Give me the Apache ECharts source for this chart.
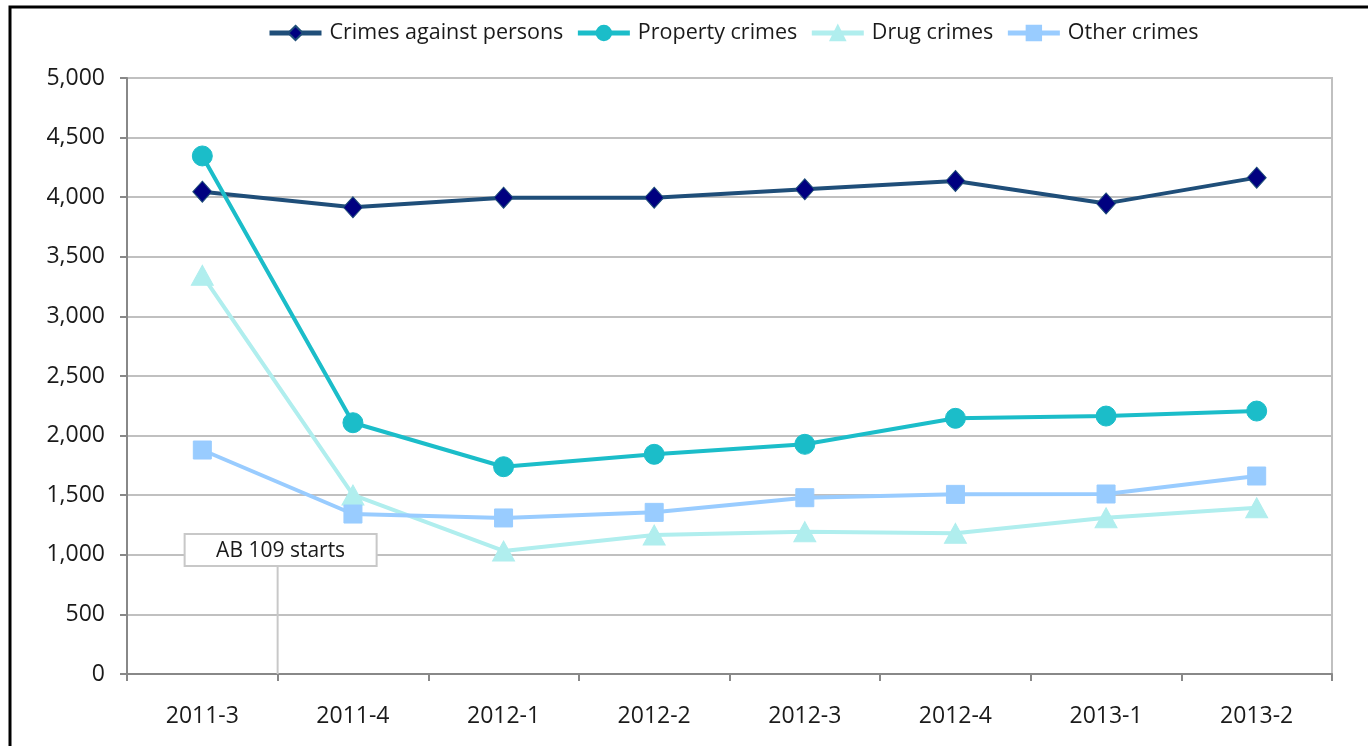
<!DOCTYPE html>
<html>
<head>
<meta charset="utf-8">
<script src="https://cdn.jsdelivr.net/npm/echarts@6/dist/echarts.min.js"></script>
<style>
html,body{margin:0;padding:0;background:#fff;}
#c{width:1368px;height:746px;}
</style>
</head>
<body>
<div id="c"></div>
<script>
const categories = ['2011-3','2011-4','2012-1','2012-2','2012-3','2012-4','2013-1','2013-2'];
const personsCrimes = [4046, 3915, 3996, 3996, 4066, 4136, 3948, 4164];
const propertyCrimes = [4346, 2108, 1739, 1843, 1927, 2145, 2164, 2206];
const drugCrimes = [3345, 1502, 1032, 1166, 1194, 1180, 1311, 1395];
const otherCrimes = [1879, 1342, 1309, 1356, 1479, 1507, 1510, 1661];
const yTicks = [0, 500, 1000, 1500, 2000, 2500, 3000, 3500, 4000, 4500, 5000];
const annotationText = 'AB 109 starts';
const annotationValue = 1040;

const FONT = '"Open Sans", "Noto Sans", sans-serif';
const chart = echarts.init(document.getElementById('c'));

function mkSeries(name, data, color, symbol, size, symColor, symBorder) {
  return {
    name: name, type: 'line', data: data,
    symbol: symbol, symbolSize: size,
    lineStyle: { color: color, width: 4 },
    itemStyle: { color: symColor || color, borderColor: symBorder || symColor || color, borderWidth: 1 },
    emphasis: { disabled: true },
    z: 3
  };
}

chart.setOption({
  animation: false,
  textStyle: { fontFamily: FONT },
  legend: {
    top: 17, left: 262,
    itemWidth: 52, itemHeight: 18, itemGap: 12,
    lineStyle: { width: 5 },
    textStyle: { fontFamily: FONT, fontSize: 21.5, color: '#1a1a1a', padding: [0, 0, 0, 3] },
    data: ['Crimes against persons', 'Property crimes', 'Drug crimes', 'Other crimes']
  },
  grid: { left: 127, right: 36, top: 78, bottom: 72, show: true, borderColor: '#c0c0c0', borderWidth: 2, backgroundColor: 'transparent' },
  xAxis: {
    type: 'category', data: categories, boundaryGap: true,
    axisLine: { lineStyle: { color: '#888888', width: 2 } },
    axisTick: { show: true, length: 7, lineStyle: { color: '#888888', width: 2 } },
    axisLabel: { fontFamily: FONT, fontSize: 23, color: '#1a1a1a', margin: 31 },
    splitLine: { show: false }
  },
  yAxis: {
    type: 'value', min: 0, max: 5000, interval: 500,
    axisLine: { show: true, lineStyle: { color: '#888888', width: 2 } },
    axisTick: { show: true, length: 7, lineStyle: { color: '#888888', width: 2 } },
    axisLabel: {
      fontFamily: FONT, fontSize: 23, color: '#1a1a1a', margin: 22,
      formatter: function (v) { return yTicks.indexOf(v) >= 0 ? v.toLocaleString('en-US') : ''; }
    },
    splitLine: { show: true, lineStyle: { color: '#c0c0c0', width: 2 } }
  },
  series: [
    mkSeries('Crimes against persons', personsCrimes, '#1F4E79', 'diamond', [19, 21], '#000080', '#1F4E79'),
    mkSeries('Property crimes', propertyCrimes, '#1BBDC9', 'circle', 20),
    mkSeries('Drug crimes', drugCrimes, '#B0EEEE', 'triangle', [22, 20]),
    mkSeries('Other crimes', otherCrimes, '#99CCFF', 'rect', 18)
  ]
});

function placeAnnotation() {
  const p0 = chart.convertToPixel({ xAxisIndex: 0 }, categories[0]);
  const p1 = chart.convertToPixel({ xAxisIndex: 0 }, categories[1]);
  const xMid = (p0 + p1) / 2;
  const yBox = chart.convertToPixel({ yAxisIndex: 0 }, annotationValue);
  const yBase = chart.convertToPixel({ yAxisIndex: 0 }, 0);
  const boxW = 192, boxH = 32;
  chart.setOption({
    graphic: [
      { type: 'line', silent: true, z: 10,
        shape: { x1: xMid, y1: yBox + boxH / 2, x2: xMid, y2: yBase },
        style: { stroke: '#c8c8c8', lineWidth: 2 } },
      { type: 'rect', silent: true, z: 11,
        shape: { x: xMid - 93, y: yBox - boxH / 2, width: boxW, height: boxH },
        style: { fill: '#ffffff', stroke: '#c8c8c8', lineWidth: 2 } },
      { type: 'text', silent: true, z: 12,
        x: xMid - 93 + boxW / 2, y: yBox + 1,
        style: { text: annotationText, fontFamily: FONT, fontSize: 21, fill: '#1a1a1a', align: 'center', verticalAlign: 'middle' } },
      { type: 'rect', silent: true, z: 20,
        shape: { x: 10, y: 7, width: 1400, height: 800 },
        style: { fill: 'none', stroke: '#000000', lineWidth: 3 } }
    ]
  });
}
placeAnnotation();
</script>
</body>
</html>
